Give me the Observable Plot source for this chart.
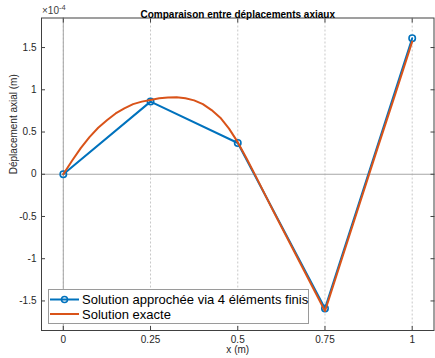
<!DOCTYPE html>
<html><head><meta charset="utf-8">
<script src="https://cdn.jsdelivr.net/npm/d3@7"></script>
<script src="https://cdn.jsdelivr.net/npm/@observablehq/plot@0.6"></script>
<style>
body{margin:0;background:#fff;}
#chart svg{display:block;}
</style>
</head><body><div id="chart"></div>
<script>
// Finite element solution (4 elements), values in metres
const feX = [0, 0.25, 0.5, 0.75, 1];
const feU = [0, 0.86e-4, 0.37e-4, -1.59e-4, 1.61e-4];
// Exact solution
const exX = [0, 0.025, 0.05, 0.075, 0.1, 0.125, 0.15, 0.175, 0.2, 0.225, 0.25, 0.275, 0.3, 0.325, 0.35, 0.375, 0.4, 0.425, 0.45, 0.475, 0.5, 0.525, 0.55, 0.6, 0.65, 0.7, 0.75, 0.8, 0.85, 0.9, 0.95, 1];
const exU = [0, 0.16e-4, 0.31e-4, 0.44e-4, 0.55e-4, 0.64e-4, 0.72e-4, 0.78e-4, 0.83e-4, 0.86e-4, 0.88e-4, 0.90e-4, 0.91e-4, 0.912e-4, 0.90e-4, 0.875e-4, 0.83e-4, 0.76e-4, 0.67e-4, 0.54e-4, 0.38e-4, 0.19e-4, -0.01e-4, -0.42e-4, -0.82e-4, -1.22e-4, -1.62e-4, -0.98e-4, -0.34e-4, 0.30e-4, 0.93e-4, 1.57e-4];
const xTicks = [0, 0.25, 0.5, 0.75, 1];
const xTickLabels = ["0", "0.25", "0.5", "0.75", "1"];
const yTicks = [-1.5e-4, -1e-4, -0.5e-4, 0, 0.5e-4, 1e-4, 1.5e-4];
const yTickLabels = ["-1.5", "-1", "-0.5", "0", "0.5", "1", "1.5"];
const seriesNames = ["Solution approchée via 4 éléments finis", "Solution exacte"];
const titleText = "Comparaison entre déplacements axiaux";
const xLabel = "x (m)";
const yLabel = "Déplacement axial (m)";

const blue = "#0072BD", orange = "#D95319";
const fe = feX.map((x, i) => ({x, u: feU[i]}));
const ex = exX.map((x, i) => ({x, u: exU[i]}));
const font = "Liberation Sans, Arial, Helvetica, sans-serif";

const chart = Plot.plot({
  width: 435, height: 358,
  marginLeft: 41, marginRight: 1.5, marginTop: 17.5, marginBottom: 28,
  style: {fontFamily: font, fontSize: "10px", color: "#262626", background: "#fff"},
  x: {domain: [-0.0625, 1.0625]},
  y: {domain: [-1.85e-4, 1.85e-4]},
  marks: [
    Plot.gridX(xTicks, {stroke: "#c8c8c8", strokeOpacity: 1, strokeDasharray: "2,2"}),
    Plot.ruleX([0], {stroke: "#a6a6a6"}),
    Plot.ruleY([0], {stroke: "#a6a6a6"}),
    Plot.line(fe, {x: "x", y: "u", stroke: blue, strokeWidth: 2}),
    Plot.dot(fe, {x: "x", y: "u", r: 3.2, stroke: blue, strokeWidth: 1.6, fill: "none"}),
    Plot.line(ex, {x: "x", y: "u", stroke: orange, strokeWidth: 2}),
    Plot.frame({stroke: "#404040"}),
    Plot.axisX(xTicks, {anchor: "bottom", tickSize: -4, tickPadding: 9, tickFormat: (d, i) => xTickLabels[i], label: null, stroke: "#404040"}),
    Plot.axisX(xTicks, {anchor: "top", tickSize: -4, tickFormat: () => "", label: null, stroke: "#404040"}),
    Plot.axisY(yTicks, {anchor: "left", tickSize: -4, tickPadding: 9, tickFormat: (d, i) => yTickLabels[i], label: null, stroke: "#404040"}),
    Plot.axisY(yTicks, {anchor: "right", tickSize: -4, tickFormat: () => "", label: null, stroke: "#404040"}),
    Plot.text([titleText], {frameAnchor: "top", dy: -7, fontWeight: "bold", fontSize: 10, fill: "#000"}),
    Plot.text([xLabel], {frameAnchor: "bottom", dy: 22, fontSize: 10, fill: "#262626"}),
    Plot.text([yLabel], {frameAnchor: "left", dx: -28, rotate: -90, fontSize: 10, fill: "#262626"})
  ]
});
document.getElementById("chart").appendChild(chart);

// exponent label ×10^-4
const svg = d3.select(chart);
const ex4 = svg.append("text").attr("x", 42).attr("y", 14).attr("font-size", 10).attr("fill", "#404040")
  .attr("font-family", font).attr("text-anchor", "start");
ex4.append("tspan").text("×10");
ex4.append("tspan").attr("dy", -4).attr("font-size", 7.5).text("-4");

// legend
const lg = svg.append("g").attr("font-family", font).attr("text-anchor", "start");
lg.append("rect").attr("x", 48.5).attr("y", 289.5).attr("width", 260).attr("height", 34)
  .attr("fill", "#fff").attr("stroke", "#9a9a9a").attr("stroke-width", 1);
const rows = [{name: seriesNames[0], color: blue, marker: true, y: 299.5}, {name: seriesNames[1], color: orange, marker: false, y: 314}];
rows.forEach(r => {
  lg.append("line").attr("x1", 50).attr("x2", 79).attr("y1", r.y).attr("y2", r.y).attr("stroke", r.color).attr("stroke-width", 2);
  if (r.marker) lg.append("circle").attr("cx", 64.5).attr("cy", r.y).attr("r", 3).attr("fill", "none").attr("stroke", r.color).attr("stroke-width", 1.6);
  lg.append("text").attr("x", 82).attr("y", r.y).attr("dy", "0.35em").attr("font-size", 13).attr("fill", "#000").attr("text-anchor", "start").text(r.name);
});
</script>
</body></html>
